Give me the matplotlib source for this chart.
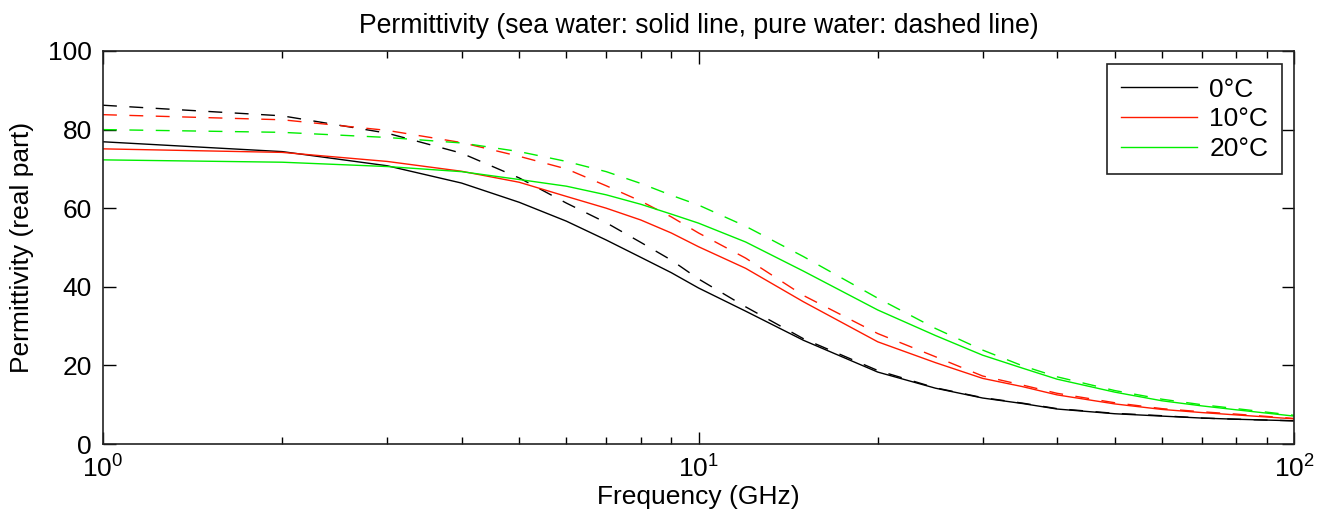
import matplotlib
matplotlib.use('Agg')
import matplotlib.pyplot as plt
from matplotlib.ticker import LogLocator, NullFormatter
import numpy as np

freq = [1, 2, 3, 4, 5, 6, 7, 8, 9, 10, 12, 15, 20, 25, 30, 35, 40, 50, 60, 70, 80, 100]

# sea water (solid lines)
sea_0 = [76.9, 74.4, 70.8, 66.4, 61.5, 56.7, 51.9, 47.5, 43.6, 39.7, 33.8, 26.4, 18.3, 14.2,
         11.7, 10.3, 8.9, 7.7, 7.1, 6.6, 6.3, 5.9]
sea_10 = [75.1, 74.2, 71.9, 69.4, 66.6, 63.0, 60.0, 57.0, 53.7, 50.2, 44.7, 36.2, 26.0, 20.7,
          16.7, 14.6, 12.5, 10.2, 8.8, 8.0, 7.4, 6.4]
sea_20 = [72.3, 71.7, 70.6, 69.3, 67.3, 65.6, 63.4, 61.0, 58.5, 56.2, 51.4, 44.0, 34.1, 27.6,
          22.6, 19.3, 16.5, 13.2, 11.0, 9.7, 8.7, 7.1]

# pure water (dashed lines)
pure_0 = [86.2, 83.5, 79.1, 74.0, 67.7, 61.3, 56.3, 51.3, 46.8, 42.0, 34.9, 26.8, 18.7, 14.3,
          11.8, 10.4, 9.0, 7.8, 7.2, 6.6, 6.3, 5.9]
pure_10 = [83.8, 82.5, 79.8, 76.7, 73.2, 70.0, 65.7, 61.8, 57.8, 53.7, 47.3, 37.8, 28.1, 22.2,
           17.3, 15.0, 12.9, 10.5, 9.0, 8.2, 7.6, 6.5]
pure_20 = [80.0, 79.3, 78.0, 76.6, 74.4, 71.9, 69.3, 66.3, 63.3, 60.8, 55.4, 47.7, 37.1, 29.4,
           23.9, 19.9, 17.1, 13.6, 11.4, 10.0, 9.0, 7.3]

labels = ['0°C', '10°C', '20°C']
colors = ['#000000', '#ff1a00', '#00ee00']

plt.rcParams['font.family'] = ['Liberation Sans', 'DejaVu Sans']
plt.rcParams['mathtext.default'] = 'regular'

fig = plt.figure(figsize=(13.19, 5.28), dpi=100)
ax = fig.add_axes([103 / 1319, (528 - 444) / 528, (1294 - 103) / 1319, (444 - 51) / 528])

for s, p, c, lab in zip([sea_0, sea_10, sea_20], [pure_0, pure_10, pure_20], colors, labels):
    ax.plot(freq, s, '-', color=c, lw=1.0, label=lab)
    ax.plot(freq, p, '--', color=c, lw=1.0, dashes=(10, 9))

ax.set_xscale('log')
ax.set_xlim(1, 100)
ax.set_ylim(0, 100)
ax.set_yticks([0, 20, 40, 60, 80, 100])
ax.xaxis.set_minor_locator(LogLocator(base=10, subs=np.arange(2, 10)))
ax.xaxis.set_minor_formatter(NullFormatter())

ax.tick_params(which='both', direction='in', top=True, right=True, width=1, labelsize=19)
ax.tick_params(which='major', length=9, pad=8)
ax.tick_params(which='minor', length=5)
for sp in ax.spines.values():
    sp.set_linewidth(1.2)
    sp.set_color('#222222')

ax.set_xlabel('Frequency (GHz)', fontsize=19, labelpad=2)
ax.set_ylabel('Permittivity (real part)', fontsize=19, labelpad=10)
ax.set_title('Permittivity (sea water: solid line, pure water: dashed line)', fontsize=19.2, pad=13)

leg = ax.legend(loc='upper right', fancybox=False, framealpha=1, edgecolor='#222222',
                fontsize=19, handlelength=2.9, borderpad=0.52, labelspacing=0.21,
                handletextpad=0.45, borderaxespad=0, bbox_to_anchor=(0.990, 0.967))
leg.get_frame().set_linewidth(1.2)

plt.savefig('out.png', dpi=100)
plt.close()
